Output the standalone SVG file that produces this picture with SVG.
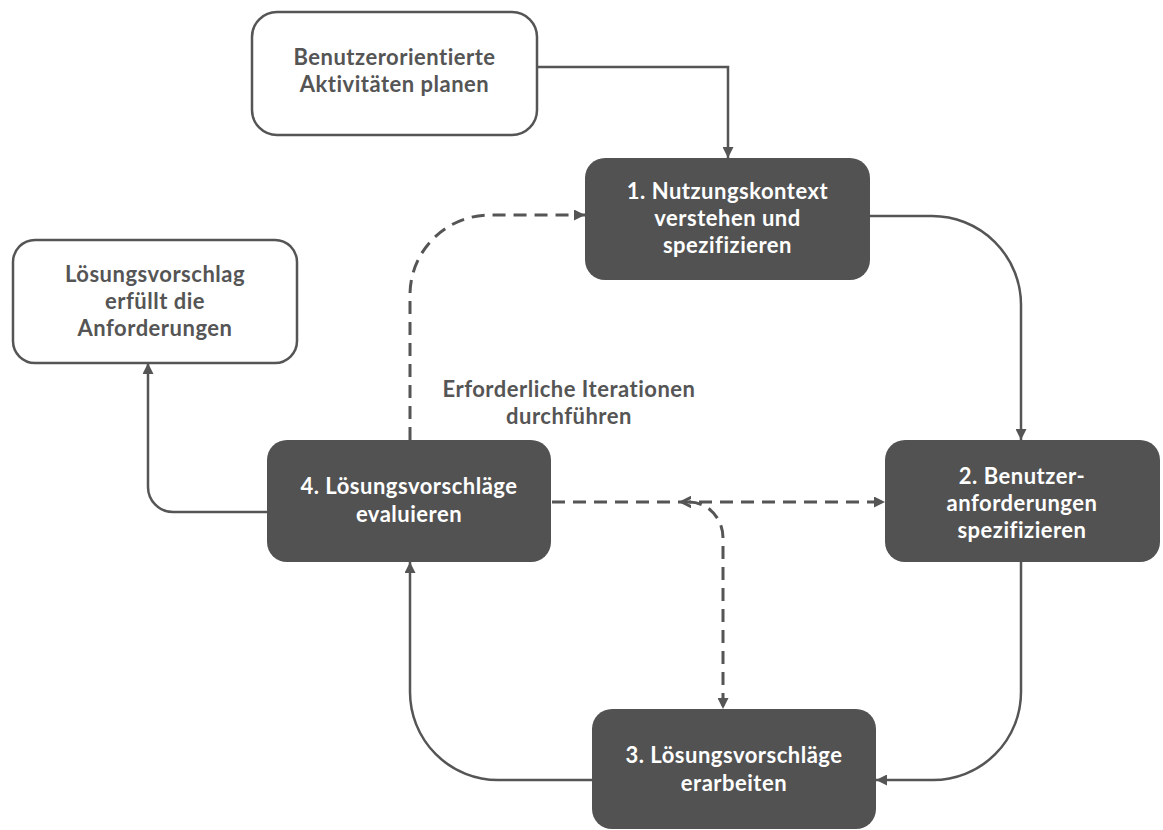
<svg xmlns="http://www.w3.org/2000/svg" width="1163" height="830" viewBox="0 0 1163 830">
  <style>
    .box-dark { fill: #525252; }
    .box-light { fill: #ffffff; stroke: #555555; stroke-width: 2.5; }
    .t { font-family: Lato, "Open Sans", "Liberation Sans", sans-serif; font-weight: 700; font-size: 22px; letter-spacing: 0.5px; text-anchor: middle; font-variant-ligatures: none; }
    .t-light { fill: #ffffff; }
    .t-dark { fill: #555555; }
    .solid { fill: none; stroke: #555555; stroke-width: 2.5; }
    .dashed { fill: none; stroke: #555555; stroke-width: 3; stroke-dasharray: 13 8; }
  </style>
  <defs>
    <marker id="arrow" viewBox="0 0 10 10" refX="10" refY="5" markerWidth="11" markerHeight="11" markerUnits="userSpaceOnUse" orient="auto-start-reverse">
      <path d="M0,0 L10,5 L0,10 Z" fill="#555555"/>
    </marker>
    <marker id="chev" viewBox="0 0 10 10" refX="2" refY="5" markerWidth="12" markerHeight="12" markerUnits="userSpaceOnUse" orient="auto-start-reverse">
      <path d="M0,1 L8,5 L0,9" fill="none" stroke="#555555" stroke-width="2.5"/>
    </marker>
  </defs>

  <rect width="1163" height="830" fill="#ffffff"/>

  <!-- connectors -->
  <g id="connectors">
    <!-- plan -> 1 -->
    <path class="solid" d="M537,67 H728 V158" marker-end="url(#arrow)"/>
    <!-- 1 -> 2 -->
    <path class="solid" d="M870,216 H932 A89,89 0 0 1 1021,305 V440" marker-end="url(#arrow)"/>
    <!-- 2 -> 3 -->
    <path class="solid" d="M1021,562 V692 A88,88 0 0 1 933,780 H876" marker-end="url(#arrow)"/>
    <!-- 3 -> 4 -->
    <path class="solid" d="M592,780 H498 A88,88 0 0 1 410,692 V562" marker-end="url(#arrow)"/>
    <!-- 4 -> result -->
    <path class="solid" d="M267,512 H173 A25,25 0 0 1 148,487 V363" marker-end="url(#arrow)"/>
    <!-- iterations: 4 -> 1 -->
    <path class="dashed" d="M410,440 V295 A80,80 0 0 1 490,215 H585" marker-end="url(#arrow)"/>
    <!-- iterations: 4 -> 2 -->
    <path class="dashed" d="M552,502 H885" marker-end="url(#arrow)"/>
    <!-- iterations: branch -> 3 -->
    <path class="dashed" d="M689,502 A34,36 0 0 1 723,538 V709" marker-start="url(#chev)" marker-end="url(#arrow)"/>
  </g>

  <!-- label -->
  <g id="label-iterations">
    <text class="t t-dark" x="569" y="397">Erforderliche Iterationen</text>
    <text class="t t-dark" x="569" y="424">durchführen</text>
  </g>

  <g id="node-plan">
    <rect class="box-light" x="252" y="12" width="285" height="123" rx="25"/>
    <text class="t t-dark" x="394.5" y="65">Benutzerorientierte</text>
    <text class="t t-dark" x="394.5" y="92">Aktivitäten planen</text>
  </g>

  <g id="node-1">
    <rect class="box-dark" x="585" y="158" width="285" height="122" rx="20"/>
    <text class="t t-light" x="727.5" y="199">1. Nutzungskontext</text>
    <text class="t t-light" x="727.5" y="226">verstehen und</text>
    <text class="t t-light" x="727.5" y="253">spezifizieren</text>
  </g>

  <g id="node-result">
    <rect class="box-light" x="13" y="240" width="284" height="123" rx="22"/>
    <text class="t t-dark" x="155" y="282">Lösungsvorschlag</text>
    <text class="t t-dark" x="155" y="309">erfüllt die</text>
    <text class="t t-dark" x="155" y="336">Anforderungen</text>
  </g>

  <g id="node-4">
    <rect class="box-dark" x="267" y="440" width="284" height="122" rx="20"/>
    <text class="t t-light" x="409" y="494">4. Lösungsvorschläge</text>
    <text class="t t-light" x="409" y="522">evaluieren</text>
  </g>

  <g id="node-2">
    <rect class="box-dark" x="885" y="440" width="275" height="122" rx="20"/>
    <text class="t t-light" x="1022" y="484">2. Benutzer-</text>
    <text class="t t-light" x="1022" y="511">anforderungen</text>
    <text class="t t-light" x="1022" y="538">spezifizieren</text>
  </g>

  <g id="node-3">
    <rect class="box-dark" x="592" y="709" width="284" height="120" rx="20"/>
    <text class="t t-light" x="734" y="763">3. Lösungsvorschläge</text>
    <text class="t t-light" x="734" y="791">erarbeiten</text>
  </g>
</svg>
